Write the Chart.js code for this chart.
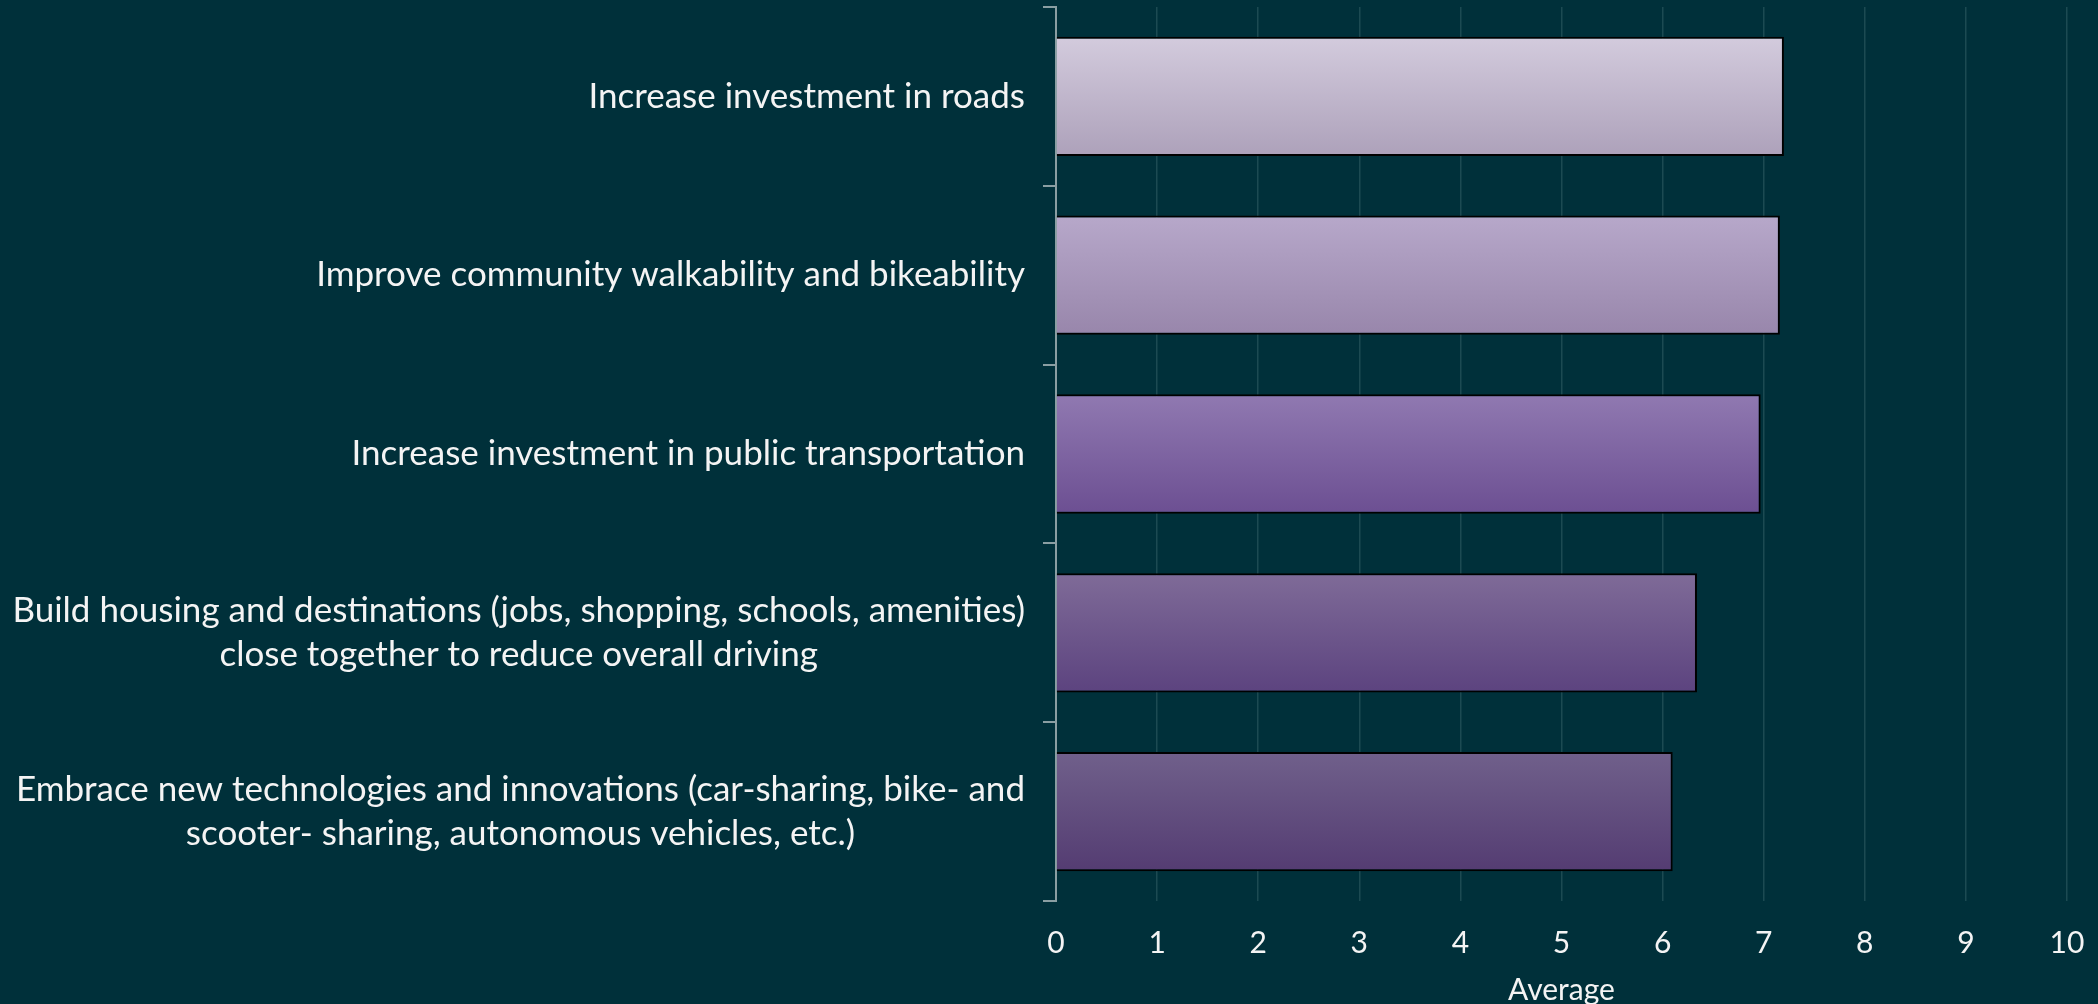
<!DOCTYPE html>
<html>
<head>
<meta charset="utf-8">
<script src="https://cdn.jsdelivr.net/npm/chart.js@4.4.1/dist/chart.umd.min.js"></script>
<style>
  html, body { margin: 0; padding: 0; background: #00303a; overflow: hidden; }
  canvas { display: block; }
</style>
</head>
<body>
<canvas id="c" width="2098" height="1004"></canvas>
<script>
// ---- data ----
const categories = [
  "Increase investment in roads",
  "Improve community walkability and bikeability",
  "Increase investment in public transportation",
  ["Build housing and destinations (jobs, shopping, schools, amenities)", "close together to reduce overall driving"],
  ["Embrace new technologies and innovations (car-sharing, bike- and", "scooter- sharing, autonomous vehicles, etc.)"]
];
const averages = [7.20, 7.16, 6.97, 6.34, 6.10];
const xTickValues = [0, 1, 2, 3, 4, 5, 6, 7, 8, 9, 10];
const axisTitle = "Average";

// ---- styles ----
const gradTop = ["#d3cbdd", "#b7a8ca", "#9079b1", "#7f6b98", "#70608b"];
const gradBottom = ["#ada1ba", "#9886ab", "#6c4f92", "#5c437f", "#543c72"];
const FONT = "Lato, 'Open Sans', sans-serif";
const BAR_PCT = 0.667;

function barFill(c) {
  const chart = c.chart;
  const ys = chart.scales.y;
  const i = c.dataIndex;
  if (!chart.chartArea || !ys || i === undefined) return gradTop[0];
  const band = Math.abs(ys.getPixelForValue(1) - ys.getPixelForValue(0));
  const cy = ys.getPixelForValue(i);
  const half = band * BAR_PCT / 2;
  const g = chart.ctx.createLinearGradient(0, cy - half, 0, cy + half);
  g.addColorStop(0, gradTop[i]);
  g.addColorStop(1, gradBottom[i]);
  return g;
}

const labelPlugin = {
  id: 'centeredLabels',
  afterDraw(chart) {
    const ys = chart.scales.y;
    const ctx = chart.ctx;
    ctx.save();
    ctx.font = "35px " + FONT;
    ctx.fillStyle = "#f4f4f4";
    ctx.textAlign = "center";
    ctx.textBaseline = "middle";
    const right = chart.chartArea.left - 31;
    const lineH = 44;
    categories.forEach((lab, i) => {
      const lines = Array.isArray(lab) ? lab : [lab];
      const w = Math.max(...lines.map(l => ctx.measureText(l).width));
      const cx = right - w / 2;
      const cy = ys.getPixelForValue(i);
      lines.forEach((l, k) => {
        ctx.fillText(l, cx, cy + (k - (lines.length - 1) / 2) * lineH);
      });
    });
    ctx.restore();
  }
};

new Chart(document.getElementById('c'), {
  type: 'bar',
  data: {
    labels: categories,
    datasets: [{
      data: averages,
      backgroundColor: barFill,
      borderColor: "#000000",
      borderWidth: 2,
      barPercentage: BAR_PCT,
      categoryPercentage: 1
    }]
  },
  options: {
    indexAxis: 'y',
    responsive: false,
    animation: false,
    layout: { padding: { top: 7, right: 31, bottom: 0, left: 0 } },
    plugins: { legend: { display: false }, tooltip: { enabled: false } },
    scales: {
      x: {
        min: 0, max: 10,
        afterBuildTicks: s => { s.ticks = xTickValues.map(v => ({ value: v })); },
        ticks: { color: "#f4f4f4", font: { family: FONT, size: 30 }, padding: 24, maxRotation: 0 },
        grid: { color: "#1c4a52", lineWidth: 1.5, drawTicks: false },
        border: { display: false },
        title: { display: true, text: axisTitle, color: "#f4f4f4",
                 font: { family: FONT, size: 30, lineHeight: 0.9 }, padding: { top: 0, bottom: 0 } },
        afterFit: s => { s.height = 103; s.paddingLeft = 0; s.paddingRight = 0; }
      },
      y: {
        grid: { drawOnChartArea: false, drawTicks: true, tickLength: 13, color: "#8a9ea2", lineWidth: 2, offset: true },
        border: { display: true, color: "#8a9ea2", width: 2 },
        ticks: { display: false },
        afterFit: s => { s.width = 1056; s.paddingTop = 0; s.paddingBottom = 0; }
      }
    }
  },
  plugins: [labelPlugin]
});
</script>
</body>
</html>
